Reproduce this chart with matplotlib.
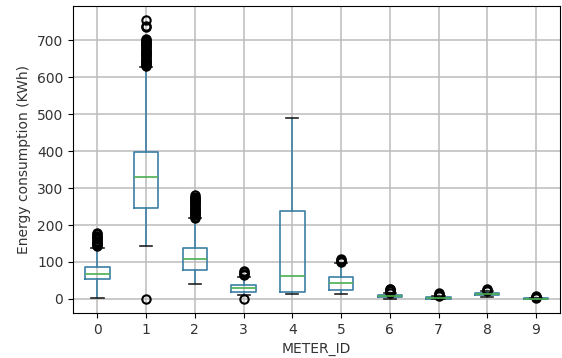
import matplotlib
matplotlib.use('Agg')
import matplotlib.pyplot as plt

meters = ['0', '1', '2', '3', '4', '5', '6', '7', '8', '9']
whislo = [3, 142, 41, 10, 12, 14, 0, 0, 6, 0]
q1 = [54, 245, 79, 19, 18, 24, 4, 0, 10, 0]
med = [68, 329, 108, 30, 61, 42, 7, 2, 13, 0]
q3 = [87, 398, 139, 38, 237, 58, 10, 6, 16, 1]
whishi = [139, 628, 218, 58, 491, 97, 15, 7, 20, 2]
fliers = [
    [143, 146, 149, 152, 155, 158, 161, 164, 167, 170, 175, 178],
    [0, 630, 633, 636, 639, 642, 645, 648, 651, 654, 657, 660, 663, 666,
     669, 672, 675, 678, 681, 684, 687, 690, 693, 696, 699, 702, 705,
     735, 740, 755],
    [220, 223, 226, 229, 232, 235, 238, 241, 244, 247, 250, 253, 256, 259,
     262, 265, 268, 271, 274, 277, 280],
    [0, 65, 68, 72, 75],
    [],
    [100, 103, 106, 108],
    [17, 20, 23, 26, 28],
    [8, 11, 14, 16],
    [22, 25, 28],
    [2, 4, 6, 8],
]

stats = []
for i, m in enumerate(meters):
    stats.append({'label': m, 'whislo': whislo[i], 'q1': q1[i], 'med': med[i],
                  'q3': q3[i], 'whishi': whishi[i], 'fliers': fliers[i]})

plt.rcParams['font.size'] = 10
plt.rcParams['text.color'] = '#333333'
plt.rcParams['xtick.labelcolor'] = '#333333'
plt.rcParams['ytick.labelcolor'] = '#333333'
plt.rcParams['axes.labelcolor'] = '#333333'
fig = plt.figure(figsize=(5.62, 3.58), dpi=100)
ax = fig.add_axes([0.130, 0.126, 0.867, 0.857])

blue = '#3c7fa6'
ax.bxp(stats, widths=0.5,
       boxprops=dict(color=blue, linewidth=1.2),
       whiskerprops=dict(color=blue, linewidth=1.2),
       capprops=dict(color='#222222', linewidth=1.2),
       medianprops=dict(color='#4caf50', linewidth=1.2),
       flierprops=dict(marker='o', markerfacecolor='none',
                       markeredgecolor='black', markersize=6,
                       markeredgewidth=1.5))

ax.grid(True, color='#bcbcbc', linewidth=1.1)
ax.set_axisbelow(True)
ax.set_ylim(-38, 793)
ax.set_ylabel('Energy consumption (KWh)')
ax.set_xlabel('METER_ID')

fig.savefig('out.png', dpi=100)
